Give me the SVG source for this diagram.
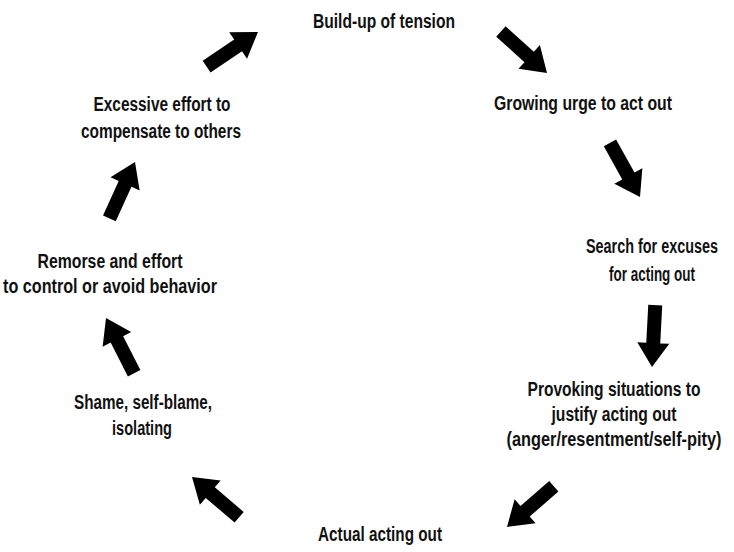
<svg xmlns="http://www.w3.org/2000/svg" xmlns:xlink="http://www.w3.org/1999/xlink" width="734" height="552" viewBox="0 0 734 552">
<style>
text{font-family:"Liberation Sans",Arial,sans-serif;font-size:19.5px;font-weight:bold;fill:#111;text-anchor:middle}
.arr{fill:#000}
</style>
<defs>
<path id="arr" d="M0,0 L-24,-16 L-24,-7 L-62,-7 L-62,7 L-24,7 L-24,16 Z"/>
</defs>
<rect width="734" height="552" fill="#fff"/>
<g id="connectors" class="arr">
<use xlink:href="#arr" href="#arr" transform="translate(258,32) rotate(-34)"/>
<use xlink:href="#arr" href="#arr" transform="translate(547,73) rotate(42)"/>
<use xlink:href="#arr" href="#arr" transform="translate(640,197) rotate(61)"/>
<use xlink:href="#arr" href="#arr" transform="translate(652,367) rotate(93)"/>
<use xlink:href="#arr" href="#arr" transform="translate(507,527) rotate(139)"/>
<use xlink:href="#arr" href="#arr" transform="translate(192,477) rotate(220.5)"/>
<use xlink:href="#arr" href="#arr" transform="translate(106,318) rotate(-117)"/>
<use xlink:href="#arr" href="#arr" transform="translate(135,162) rotate(-65.6)"/>
</g>
<g id="n1"><text x="384" y="28" textLength="142" lengthAdjust="spacingAndGlyphs">Build-up of tension</text></g>
<g id="n2"><text x="583" y="110" textLength="178" lengthAdjust="spacingAndGlyphs">Growing urge to act out</text></g>
<g id="n3"><text x="652" y="253" textLength="132" lengthAdjust="spacingAndGlyphs">Search for excuses</text><text x="652" y="281" textLength="86" lengthAdjust="spacingAndGlyphs">for acting out</text></g>
<g id="n4"><text x="614" y="396" textLength="173" lengthAdjust="spacingAndGlyphs">Provoking situations to</text><text x="614" y="421" textLength="125" lengthAdjust="spacingAndGlyphs">justify acting out</text><text x="614" y="446" textLength="215" lengthAdjust="spacingAndGlyphs">(anger/resentment/self-pity)</text></g>
<g id="n5"><text x="380" y="541" textLength="124" lengthAdjust="spacingAndGlyphs">Actual acting out</text></g>
<g id="n6"><text x="143" y="409" textLength="138" lengthAdjust="spacingAndGlyphs">Shame, self-blame,</text><text x="142" y="435" textLength="60" lengthAdjust="spacingAndGlyphs">isolating</text></g>
<g id="n7"><text x="110" y="268" textLength="145" lengthAdjust="spacingAndGlyphs">Remorse and effort</text><text x="110" y="293" textLength="214" lengthAdjust="spacingAndGlyphs">to control or avoid behavior</text></g>
<g id="n8"><text x="162" y="111" textLength="137" lengthAdjust="spacingAndGlyphs">Excessive effort to</text><text x="161" y="138" textLength="160" lengthAdjust="spacingAndGlyphs">compensate to others</text></g>
</svg>
